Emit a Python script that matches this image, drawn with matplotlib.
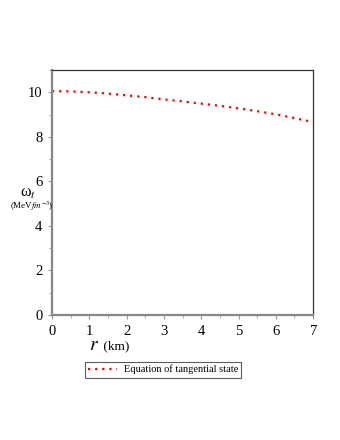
import matplotlib

matplotlib.use("Agg")
import matplotlib.pyplot as plt
from matplotlib.ticker import MultipleLocator

# values
r_km = [0, 0.5, 1, 1.5, 2, 2.5, 3, 3.5, 4, 4.5, 5, 5.5, 6, 6.5, 7]
omega_t = [10.05, 10.04, 10.0, 9.94, 9.86, 9.78, 9.68, 9.59, 9.49, 9.39, 9.28, 9.15, 9.01, 8.84, 8.66]

plt.rcParams["font.family"] = ["Liberation Serif", "DejaVu Serif"]
plt.rcParams["mathtext.fontset"] = "stix"

fig = plt.figure(figsize=(3.4, 4.4), dpi=100)
ax = fig.add_axes([0.153, 0.284, 0.768, 0.557])
line, = ax.plot(r_km, omega_t, color="red", linestyle=(0, (1, 2.2)), linewidth=1.6,
                label="Equation of tangential state")

ax.set_xlim(0, 7)
ax.set_ylim(0, 11)
ax.xaxis.set_major_locator(MultipleLocator(1))
ax.xaxis.set_minor_locator(MultipleLocator(0.5))
ax.yaxis.set_major_locator(MultipleLocator(2))
ax.yaxis.set_minor_locator(MultipleLocator(1))
ax.tick_params(which="both", direction="out", color="#999999", labelsize=10.5, pad=4)
ax.tick_params(which="major", length=3)
ax.tick_params(which="minor", length=2)
for s in ("left", "bottom"):
    ax.spines[s].set_color("#888888")
    ax.spines[s].set_linewidth(1.6)
for s in ("top", "right"):
    ax.spines[s].set_color("#333333")
    ax.spines[s].set_linewidth(0.9)

fig.text(0.262, 0.214, "$r$", fontsize=14, ha="left", va="center")
fig.text(0.293, 0.214, " (km)", fontsize=9.5, ha="left", va="center")
fig.text(0.082, 0.562, "ω$_{t}$", fontsize=11.5, ha="center", va="center")
fig.text(0.093, 0.532, r"(MeV$\mathit{fm}^{-3}$)", fontsize=6.5, ha="center", va="center")

leg = fig.legend(handles=[line], loc="center", bbox_to_anchor=(0.48, 0.16),
                 fontsize=7.5, frameon=True, fancybox=False, edgecolor="#333333",
                 handlelength=2.8, borderpad=0.3, handletextpad=0.6)
leg.get_frame().set_linewidth(0.8)

fig.savefig("out.png", dpi=100)
